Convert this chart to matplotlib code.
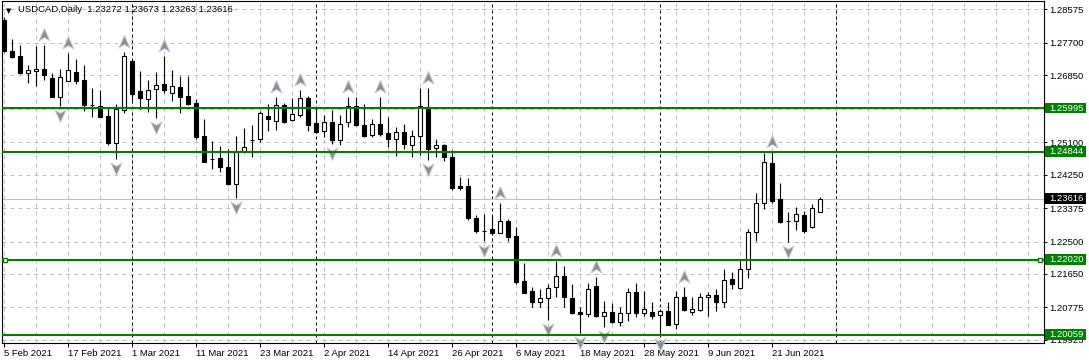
import numpy as np
import matplotlib.pyplot as plt
from matplotlib.path import Path
from matplotlib.patches import Rectangle
from matplotlib.transforms import offset_copy, blended_transform_factory

plt.rcParams['font.family'] = ['Liberation Sans', 'DejaVu Sans']

# daily candles, 5 Feb 2021 .. 29 Jun 2021
opens = [
    1.28299, 1.27488, 1.27357, 1.26904, 1.26956, 1.27009, 1.26773, 1.26291, 1.26710, 1.26938,
    1.26721, 1.26082, 1.26048, 1.25786, 1.25087, 1.25943, 1.27226, 1.26441, 1.26239, 1.26501,
    1.26616, 1.26380, 1.26545, 1.26310, 1.26119, 1.25263, 1.24668, 1.24679, 1.24443, 1.23998,
    1.24836, 1.25150, 1.25176, 1.25786, 1.25647, 1.26082, 1.25674, 1.25804, 1.26257, 1.25603,
    1.25386, 1.25629, 1.25150, 1.25621, 1.26048, 1.25543, 1.25281, 1.25569, 1.25341, 1.25176,
    1.25367, 1.25019, 1.25270, 1.26014, 1.24941, 1.25019, 1.24705, 1.23954, 1.23954, 1.23116,
    1.22783, 1.22828, 1.22715, 1.23029, 1.22645, 1.21459, 1.21197, 1.20925, 1.21014, 1.21302,
    1.21597, 1.21014, 1.20655, 1.20595, 1.21336, 1.20550, 1.20647, 1.20401, 1.20621, 1.21171,
    1.20637, 1.20647, 1.20568, 1.20689, 1.20333, 1.21040, 1.20663, 1.20715, 1.21040, 1.21100,
    1.20925, 1.21511, 1.21275, 1.21773, 1.22741, 1.23501, 1.24556, 1.23605, 1.23037, 1.23029,
    1.23186, 1.22880, 1.23272]
highs = [
    1.28378, 1.27794, 1.27637, 1.27113, 1.27619, 1.27650, 1.26904, 1.27009, 1.27443, 1.27286,
    1.27113, 1.26511, 1.26467, 1.25977, 1.26100, 1.27462, 1.27240, 1.26964, 1.26721, 1.26938,
    1.27357, 1.26990, 1.26833, 1.26833, 1.26239, 1.25700, 1.25140, 1.25001, 1.24914, 1.25263,
    1.25464, 1.25551, 1.25925, 1.26100, 1.26291, 1.26119, 1.26250, 1.26467, 1.26310, 1.26030,
    1.25812, 1.25943, 1.25812, 1.26291, 1.26276, 1.26100, 1.25700, 1.26291, 1.25752, 1.25506,
    1.25577, 1.25420, 1.26511, 1.26530, 1.25176, 1.25053, 1.24896, 1.24181, 1.24155, 1.23186,
    1.23221, 1.23186, 1.23516, 1.23082, 1.22872, 1.21930, 1.21317, 1.21249, 1.21380, 1.21998,
    1.21859, 1.21388, 1.20794, 1.21422, 1.21579, 1.20935, 1.20883, 1.20778, 1.21275, 1.21406,
    1.21213, 1.20917, 1.20741, 1.20917, 1.21197, 1.21317, 1.21055, 1.21160, 1.21178, 1.21249,
    1.21773, 1.21702, 1.22035, 1.22836, 1.23778, 1.24810, 1.24844, 1.24040, 1.23273, 1.23396,
    1.23307, 1.23482, 1.23673]
lows = [
    1.27462, 1.27312, 1.26886, 1.26642, 1.26572, 1.26729, 1.26276, 1.26048, 1.26700, 1.26624,
    1.25925, 1.25768, 1.25760, 1.25035, 1.24653, 1.25857, 1.26205, 1.25962, 1.25899, 1.25726,
    1.26380, 1.26187, 1.25873, 1.26082, 1.25176, 1.24580, 1.24391, 1.24328, 1.23980, 1.23632,
    1.24810, 1.24721, 1.25113, 1.25401, 1.25420, 1.25595, 1.25647, 1.25768, 1.25401, 1.25349,
    1.25244, 1.25053, 1.25027, 1.25506, 1.25524, 1.25228, 1.25228, 1.25263, 1.24982, 1.24739,
    1.24930, 1.24705, 1.24765, 1.24634, 1.24705, 1.24600, 1.23849, 1.23849, 1.23063, 1.22731,
    1.22522, 1.22671, 1.22710, 1.22522, 1.21388, 1.21144, 1.20778, 1.20778, 1.20445, 1.21040,
    1.20794, 1.20603, 1.20097, 1.20532, 1.20532, 1.20254, 1.20375, 1.20281, 1.20427, 1.20532,
    1.20550, 1.20464, 1.20053, 1.20315, 1.20218, 1.20689, 1.20568, 1.20689, 1.20550, 1.20689,
    1.20778, 1.21265, 1.21265, 1.21553, 1.22522, 1.23359, 1.23516, 1.22993, 1.22495, 1.22802,
    1.22715, 1.22846, 1.23263]
closes = [
    1.27496, 1.27339, 1.26904, 1.26983, 1.27009, 1.26852, 1.26291, 1.26799, 1.26983, 1.26710,
    1.26082, 1.26075, 1.25768, 1.25087, 1.25962, 1.27357, 1.26362, 1.26265, 1.26467, 1.26590,
    1.26467, 1.26572, 1.26291, 1.26108, 1.25244, 1.24590, 1.24660, 1.24459, 1.24006, 1.24844,
    1.24967, 1.25155, 1.25857, 1.25715, 1.26066, 1.25637, 1.25839, 1.26250, 1.25543, 1.25375,
    1.25629, 1.25158, 1.25577, 1.26040, 1.25543, 1.25263, 1.25569, 1.25323, 1.25176, 1.25359,
    1.25053, 1.25270, 1.26048, 1.24930, 1.25027, 1.24721, 1.23909, 1.23901, 1.23116, 1.22783,
    1.22780, 1.22715, 1.23029, 1.22626, 1.21440, 1.21160, 1.20925, 1.21014, 1.21291, 1.21597,
    1.21040, 1.20637, 1.20595, 1.21249, 1.20550, 1.20647, 1.20401, 1.20621, 1.21186, 1.20637,
    1.20726, 1.20558, 1.20673, 1.20322, 1.21040, 1.20715, 1.20726, 1.21040, 1.21100, 1.20925,
    1.21485, 1.21380, 1.21773, 1.22741, 1.23501, 1.24574, 1.23569, 1.23019, 1.23040, 1.23213,
    1.22768, 1.23370, 1.23616]

# fractal bars (bar index)
up_fractals = [5, 8, 15, 20, 34, 37, 43, 47, 53, 62, 69, 74, 85, 96]
down_fractals = [7, 14, 19, 29, 41, 53, 60, 68, 72, 75, 82, 98]

# first bar of each month (period separators)
month_starts = [16, 39, 61, 82, 104]

date_labels = ['5 Feb 2021', '17 Feb 2021', '1 Mar 2021', '11 Mar 2021', '23 Mar 2021',
               '2 Apr 2021', '14 Apr 2021', '26 Apr 2021', '6 May 2021', '18 May 2021',
               '28 May 2021', '9 Jun 2021', '21 Jun 2021']
price_ticks = [1.28575, 1.27700, 1.26850, 1.25975, 1.25100, 1.24250, 1.23375,
               1.22500, 1.21650, 1.20775, 1.19925]
levels = [1.25995, 1.24844, 1.22020, 1.20059]

W, H = 1089, 364
fig = plt.figure(figsize=(W / 100, H / 100), dpi=100)
fig.patch.set_facecolor('white')
ax = fig.add_axes([2 / W, 21 / H, 1042 / W, 342 / H])
ymin, ymax = 1.19843, 1.28797
ax.set_xlim(-0.19, 130.06)
ax.set_ylim(ymin, ymax)

o, h, l, c = map(np.array, (opens, highs, lows, closes))
x = np.arange(len(o))
bull = c >= o

# grid
for gx in np.arange(0, 131, 4):
    ax.axvline(gx, color='#c0c0c0', lw=0.72, ls=(0, (4, 4)), zorder=1)
ax.set_yticks(price_ticks)
ax.grid(axis='y', color='#c0c0c0', lw=0.72, ls=(0, (4, 4)), zorder=1)
for m in month_starts:
    ax.axvline(m, color='black', lw=0.72, ls=(0, (3, 3)), zorder=1.5)

# current price line
ax.axhline(c[-1], color='#c0c0c0', lw=0.8, zorder=1.6)

# candles
ax.vlines(x, l, h, color='black', lw=0.8, zorder=3)
ax.bar(x, np.abs(c - o), bottom=np.minimum(o, c), width=0.5,
       color=np.where(bull, 'white', 'black'), edgecolor='black', linewidth=0.8, zorder=4)

# fractal arrows
arrow_up = Path([(0, 1), (0.8, -0.8), (0, -0.3), (-0.8, -0.8), (0, 1)],
                [Path.MOVETO, Path.LINETO, Path.LINETO, Path.LINETO, Path.CLOSEPOLY])
arrow_dn = Path([(0, -1), (0.8, 0.8), (0, 0.3), (-0.8, 0.8), (0, -1)],
                [Path.MOVETO, Path.LINETO, Path.LINETO, Path.LINETO, Path.CLOSEPOLY])
ax.plot(up_fractals, h[up_fractals], ls='none', marker=arrow_up, ms=10,
        mfc='#8e8e8e', mec='#c8cce0', mew=0.7, zorder=5, clip_on=False,
        transform=offset_copy(ax.transData, fig=fig, y=7, units='points'))
ax.plot(down_fractals, l[down_fractals], ls='none', marker=arrow_dn, ms=10,
        mfc='#8e8e8e', mec='#c8cce0', mew=0.7, zorder=5, clip_on=False,
        transform=offset_copy(ax.transData, fig=fig, y=-6.5, units='points'))

# horizontal levels with price boxes
tr = blended_transform_factory(ax.transAxes, ax.transData)
ppx = (ymax - ymin) / 342  # price per pixel


def price_box(p, fc):
    ax.add_patch(Rectangle((1 + 1 / 1042, p - 5 * ppx), 41 / 1042, 10.5 * ppx, transform=tr,
                           fc=fc, ec='none', clip_on=False, zorder=7))
    ax.text(1 + 5 / 1042, p, f'{p:.5f}', transform=tr, color='white', fontsize=6.8,
            va='center', ha='left', zorder=8, clip_on=False)


for p in levels:
    ax.axhline(p, color='#008000', lw=1.5, zorder=6)
    price_box(p, '#008000')
ax.plot([0.003, 0.996], [levels[2], levels[2]], transform=tr, ls='none', marker='s', ms=3,
        mfc='white', mec='#008000', mew=1, zorder=7, clip_on=False)
price_box(c[-1], 'black')

# axes
ax.yaxis.tick_right()
ax.set_yticklabels([f'{v:.5f}' for v in price_ticks])
ax.set_xticks(np.arange(len(date_labels)) * 8)
ax.set_xticklabels(date_labels, ha='left')
ax.tick_params(axis='y', length=2.2, width=0.72, pad=1.8, labelsize=6.8)
ax.tick_params(axis='x', length=2.9, width=0.72, pad=1.5, labelsize=6.8)
for s in ax.spines.values():
    s.set_linewidth(0.8)

# title
fig.text(6 / W, 1 - 11 / H, '▼', family='DejaVu Sans', fontsize=5, va='center', ha='left')
fig.text(18 / W, 1 - 10 / H,
         f'USDCAD,Daily  {o[-1]:.5f} {h[-1]:.5f} {l[-1]:.5f} {c[-1]:.5f}',
         fontsize=6.8, va='center', ha='left')

fig.savefig('out.png', dpi=100, facecolor='white')
